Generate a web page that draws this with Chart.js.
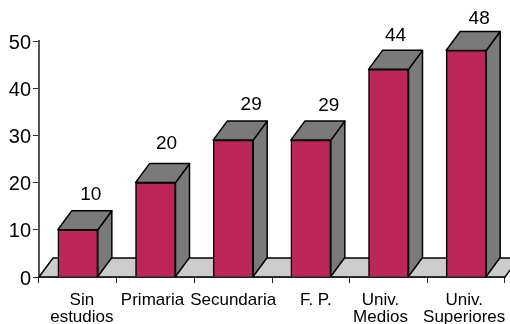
<!DOCTYPE html>
<html>
<head>
<meta charset="utf-8">
<style>
  html, body { margin: 0; padding: 0; background: #fff; }
  #wrap { width: 510px; height: 324px; }
</style>
<script src="https://cdn.jsdelivr.net/npm/chart.js@4"></script>
</head>
<body>
<div id="wrap"><canvas id="chart" width="510" height="324"></canvas></div>
<script>
// Data
const categories = [['Sin', 'estudios'], 'Primaria', 'Secundaria', 'F. P.', ['Univ.', 'Medios'], ['Univ.', 'Superiores']];
const values = [10, 20, 29, 29, 44, 48];
const yTicks = [0, 10, 20, 30, 40, 50];

// Look of the fake 3D
const DEPTH_X = 14;
const DEPTH_Y = 19;
const FRONT = '#BD2659';
const SIDE = '#7A7A7A';
const FLOOR = '#CCCCCC';
const FONT = '"Liberation Sans", Arial, sans-serif';

const poly = (ctx, pts, fill) => {
    ctx.beginPath();
    pts.forEach((p, i) => i ? ctx.lineTo(p[0], p[1]) : ctx.moveTo(p[0], p[1]));
    ctx.closePath();
    ctx.fillStyle = fill;
    ctx.fill();
    ctx.strokeStyle = '#000';
    ctx.lineWidth = 1.5;
    ctx.lineJoin = 'round';
    ctx.stroke();
};

const box3d = {
    id: 'box3d',
    // The labels in the original were placed by hand, so nudge them a little
    beforeDraw(chart) {
        const xNudge = [4, -3, 0, 5, -8, -2];
        chart.scales.x.getLabelItems(chart.chartArea).forEach((item, i) => {
            item.options.translation[0] += xNudge[i];
        });
        chart.scales.y.getLabelItems(chart.chartArea).forEach(item => {
            item.textOffset += 2;
        });
    },
    // Floor, bar tops and bar sides go under the flat bars Chart.js draws
    beforeDatasetsDraw(chart) {
        const { ctx, chartArea: a } = chart;
        const bars = chart.getDatasetMeta(0).data;
        ctx.save();
        poly(ctx, [[a.left, a.bottom], [a.right, a.bottom], [a.right + DEPTH_X, a.bottom - DEPTH_Y], [a.left + DEPTH_X, a.bottom - DEPTH_Y]], FLOOR);
        bars.forEach(b => {
            const l = b.x - b.width / 2, r = b.x + b.width / 2;
            poly(ctx, [[r, b.y], [r + DEPTH_X, b.y - DEPTH_Y], [r + DEPTH_X, b.base - DEPTH_Y], [r, b.base]], SIDE);
            poly(ctx, [[l, b.y], [l + DEPTH_X, b.y - DEPTH_Y], [r + DEPTH_X, b.y - DEPTH_Y], [r, b.y]], SIDE);
        });
        ctx.restore();
    },
    afterDatasetsDraw(chart) {
        const { ctx } = chart;
        const nudgeX = [13, 11, 18, 18, 7, 13];
        const nudgeY = [16, 20, 16, 15, 15, 13];
        ctx.save();
        ctx.font = '19px ' + FONT;
        ctx.fillStyle = '#000';
        ctx.textAlign = 'center';
        ctx.textBaseline = 'middle';
        chart.getDatasetMeta(0).data.forEach((b, i) => {
            ctx.fillText(values[i], b.x + nudgeX[i], b.y - DEPTH_Y - nudgeY[i]);
        });
        ctx.restore();
    }
};

new Chart(document.getElementById('chart').getContext('2d'), {
    type: 'bar',
    data: {
        labels: categories,
        datasets: [{
            data: values,
            backgroundColor: FRONT,
            borderColor: '#000',
            borderWidth: 1.5,
            barThickness: 40
        }]
    },
    options: {
        responsive: false,
        animation: false,
        layout: { padding: { top: 41, right: 5, left: 0, bottom: 0 } },
        plugins: { legend: { display: false }, tooltip: { enabled: false } },
        scales: {
            x: {
                // long last label must not squeeze the plot
                afterFit: s => { s.height = 47; s.paddingLeft = 0; s.paddingRight = 0; },
                border: { color: '#000', width: 1.5 },
                grid: { drawOnChartArea: false, drawTicks: true, tickLength: 6, color: '#222', offset: true },
                ticks: { color: '#000', font: { family: FONT, size: 17, lineHeight: 1 }, padding: 9, maxRotation: 0, autoSkip: false }
            },
            y: {
                min: 0,
                max: 50,
                afterFit: s => { s.width = 39; },
                afterBuildTicks: s => { s.ticks = yTicks.map(v => ({ value: v })); },
                border: { color: '#555', width: 2 },
                grid: { drawOnChartArea: false, drawTicks: true, tickLength: 6, color: '#333' },
                ticks: { color: '#000', font: { family: FONT, size: 20 }, padding: 2 }
            }
        }
    },
    plugins: [box3d]
});
</script>
</body>
</html>
